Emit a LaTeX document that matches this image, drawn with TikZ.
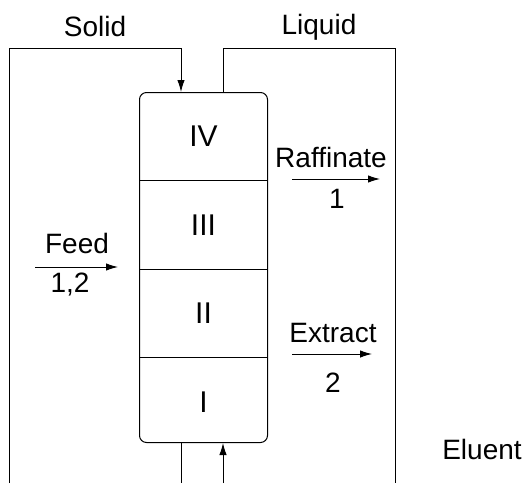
\documentclass[tikz,border=0pt]{standalone}
\usepackage{fontspec}
\setmainfont{Liberation Sans}
\usetikzlibrary{arrows.meta}
\begin{document}
\begin{tikzpicture}[x=1pt,y=-1pt,line width=1pt,
  >={Latex[length=12pt,width=7.5pt]},
  lbl/.style={font=\fontsize{28}{32}\selectfont,inner sep=0pt,anchor=base},
  zone/.style={minimum width=128pt,minimum height=87.5pt,inner sep=0pt,font=\fontsize{30}{34}\selectfont}]
\useasboundingbox (0,0) rectangle (530,483);
% column
\node[draw,rounded corners=7pt,minimum width=128pt,minimum height=350pt,inner sep=0pt,anchor=north west] (col) at (139,92) {};
\node[zone,anchor=north] (z4) at (col.north) {IV};
\node[zone,anchor=north] (z3) at (z4.south) {III};
\node[zone,anchor=north] (z2) at (z3.south) {II};
\node[zone,anchor=north] (z1) at (z2.south) {I};
\draw (z4.south west) -- (z4.south east);
\draw (z3.south west) -- (z3.south east);
\draw (z2.south west) -- (z2.south east);
% solid loop
\coordinate (bl) at (9,483);
\coordinate (tl) at (9,48);
\coordinate (ts) at (181,48);
\coordinate (bs) at (181,483);
\draw[->] (bl) -- (tl) -- (ts) -- (col.north -| ts);
\draw (col.south -| bs) -- (bs);
% liquid loop
\coordinate (lq1) at (223,48);
\coordinate (lq2) at (395,48);
\coordinate (lq3) at (395,483);
\coordinate (bq) at (223,483);
\draw (col.north -| lq1) -- (lq1) -- (lq2) -- (lq3);
\draw[->] (bq) -- (col.south -| bq);
% labels
\node[lbl] (solid) at (95,36) {Solid};
\node[lbl] (liquid) at (319,34) {Liquid};
% feed
\coordinate (fa) at (35,267);
\coordinate (fb) at (118,267);
\draw[->] (fa) -- (fb);
\node[lbl] (feed) at (77,253) {Feed};
\node[lbl] (feedn) at (70,292) {1,2};
% raffinate
\coordinate (ra) at (292,179);
\coordinate (rb) at (380,179);
\draw[->] (ra) -- (rb);
\node[lbl] (raff) at (331,167) {Raffinate};
\node[lbl] (raffn) at (337,208) {1};
% extract
\coordinate (ea) at (292,354);
\coordinate (eb) at (372,354);
\draw[->] (ea) -- (eb);
\node[lbl] (extr) at (333,342) {Extract};
\node[lbl] (extrn) at (333,392) {2};
% eluent
\node[lbl] (elu) at (482,459) {Eluent};
\end{tikzpicture}
\end{document}
